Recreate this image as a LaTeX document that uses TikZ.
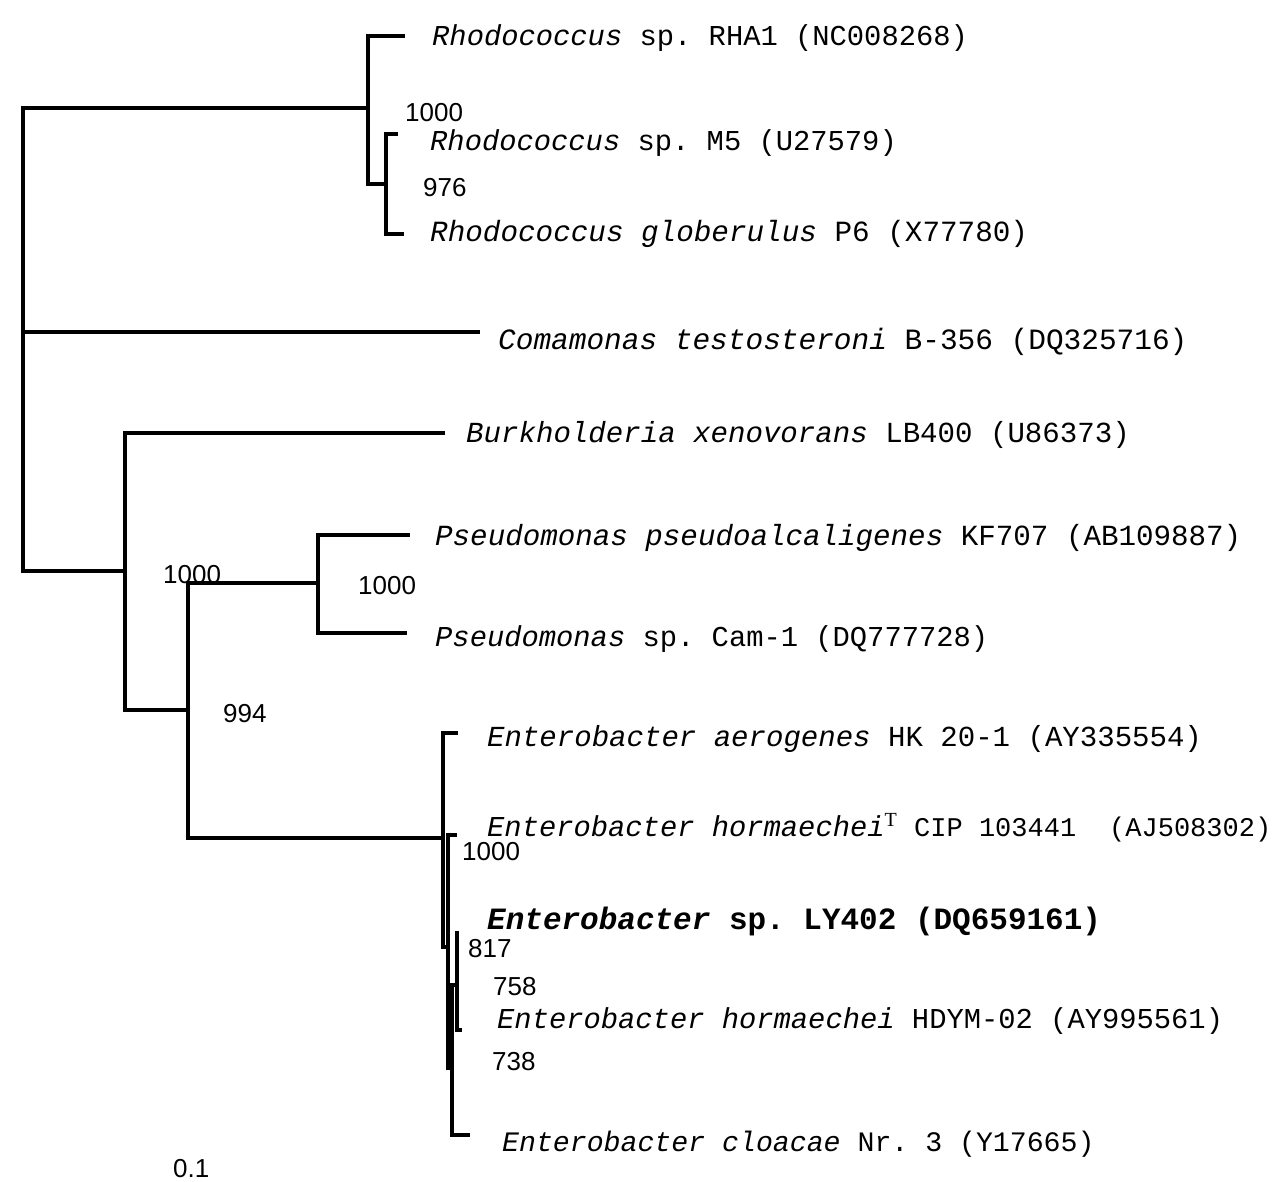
\documentclass[tikz,border=0pt]{standalone}
\usepackage{fontspec}
\setmainfont{Liberation Serif}
\setmonofont{Liberation Mono}
\newfontfamily\numfont{Liberation Sans}
\begin{document}
\begin{tikzpicture}[x=1pt,y=-1pt,
  br/.style={line width=3.8pt},
  leaf/.style={anchor=base west, inner sep=0pt, font=\fontsize{28.8}{30}\selectfont\ttfamily},
  fs/.style={font=\fontsize{#1}{30}\selectfont\ttfamily},
  boot/.style={anchor=base west, inner sep=0pt, font=\fontsize{26}{28}\selectfont\numfont}]
\useasboundingbox[fill=white] (0,0) rectangle (1279,1182);

% internal nodes
\coordinate (root) at (23,340);
\coordinate (rh) at (368,108);
\coordinate (rh2) at (386,184);
\coordinate (nb) at (125,571);
\coordinate (np) at (188,710);
\coordinate (ps) at (318,583);
\coordinate (ne) at (443,838);
\coordinate (eB) at (448,947);
\coordinate (eC) at (452,1068);
\coordinate (eD) at (457,985);

% leaf tips
\coordinate (pRHA1) at (405,36);
\coordinate (pM5) at (398,134);
\coordinate (pP6) at (404,234);
\coordinate (pCom) at (480,332);
\coordinate (pBur) at (445,433);
\coordinate (pKF) at (410,535);
\coordinate (pCam) at (407,633);
\coordinate (pAer) at (458,733);
\coordinate (pHT) at (457,835);
\coordinate (pLY) at (459,933);
\coordinate (pHD) at (462,1030);
\coordinate (pClo) at (470,1135);

% branches
\draw[br] (root) |- (rh);
\draw[br] (root) |- (pCom);
\draw[br] (root) |- (nb);
\draw[br] (rh) |- (pRHA1);
\draw[br] (rh) |- (rh2);
\draw[br] (rh2) |- (pM5);
\draw[br] (rh2) |- (pP6);
\draw[br] (nb) |- (pBur);
\draw[br] (nb) |- (np);
\draw[br] (np) |- (ps);
\draw[br] (np) |- (ne);
\draw[br] (ps) |- (pKF);
\draw[br] (ps) |- (pCam);
\draw[br] (ne) |- (pAer);
\draw[br] (ne) |- (eB);
\draw[br] (eB) |- (pHT);
\draw[br] (eB) |- (eC);
\draw[br] (eC) |- (eD);
\draw[br] (eC) |- (pClo);
\draw[br] (eD) |- (pLY);
\draw[br] (eD) |- (pHD);

% leaf labels
\node[leaf] (tRHA1) at (432,46) {\textit{Rhodococcus} sp. RHA1 (NC008268)};
\node[leaf] (tM5) at (430,151) {\textit{Rhodococcus} sp. M5 (U27579)};
\node[leaf, fs=29.3] (tP6) at (430,242) {\textit{Rhodococcus globerulus} P6 (X77780)};
\node[leaf, fs=29.45] (tCom) at (498,349) {\textit{Comamonas testosteroni} B-356 (DQ325716)};
\node[leaf, fs=29.1] (tBur) at (466,442) {\textit{Burkholderia xenovorans} LB400 (U86373)};
\node[leaf, fs=29.2] (tKF) at (435,545) {\textit{Pseudomonas pseudoalcaligenes} KF707 (AB109887)};
\node[leaf] (tCam) at (435,646) {\textit{Pseudomonas} sp. Cam-1 (DQ777728)};
\node[leaf, fs=29.05] (tAer) at (487,746) {\textit{Enterobacter aerogenes} HK 20-1 (AY335554)};
\node[leaf] (tHT) at (487,836) {\textit{Enterobacter hormaechei}\raisebox{10pt}{\fontsize{20}{20}\selectfont\rmfamily T} {\fontsize{27}{28}\selectfont CIP 103441\hspace{33pt}(AJ508302)}};
\node[leaf, font=\fontsize{31}{32}\selectfont\ttfamily\bfseries] (tLY) at (487,929) {\textit{Enterobacter} sp. LY402 (DQ659161)};
\node[leaf] (tHD) at (497,1028) {\textit{Enterobacter hormaechei} HDYM-02 (AY995561)};
\node[leaf, fs=28.2] (tClo) at (502,1151) {\textit{Enterobacter cloacae} Nr. 3 (Y17665)};

% bootstrap values
\node[boot] (b1) at (405,122) {1000};
\node[boot] (b2) at (423,197) {976};
\node[boot] (b3) at (163,583) {1000};
\node[boot] (b4) at (358,594) {1000};
\node[boot] (b5) at (223,722) {994};
\node[boot] (b6) at (462,860) {1000};
\node[boot] (b7) at (468,957) {817};
\node[boot] (b8) at (493,995) {758};
\node[boot] (b9) at (492,1070) {738};
\node[boot] (scale) at (173,1177) {0.1};
\end{tikzpicture}
\end{document}
